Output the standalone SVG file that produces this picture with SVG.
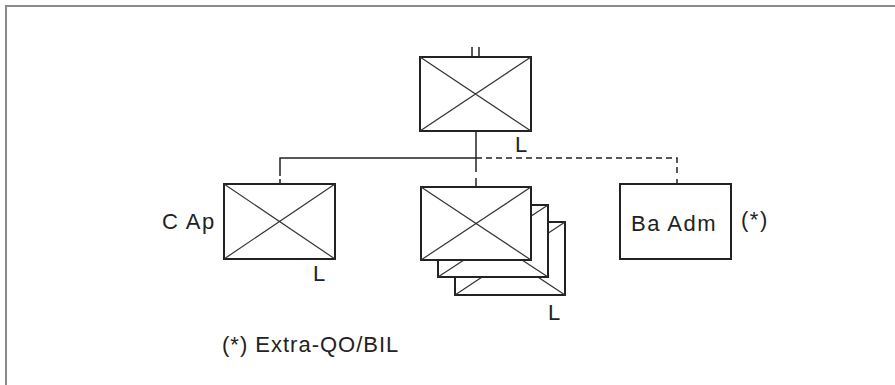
<svg xmlns="http://www.w3.org/2000/svg" width="895" height="385" viewBox="0 0 895 385">
<style>
.frame{fill:none;stroke:#8a8a8a;stroke-width:2}
.box{fill:#fff;stroke:#222;stroke-width:2}
.diag{stroke:#333;stroke-width:1.2;fill:none}
.conn{stroke:#222;stroke-width:1.5;fill:none}
.dash{stroke:#222;stroke-width:1.5;fill:none;stroke-dasharray:6,4}
text{font-family:"Liberation Sans",Arial,sans-serif;font-size:22px;fill:#222;letter-spacing:1.5px}
</style>
<rect width="895" height="385" fill="#fff"/>
<path class="frame" d="M6,385 V6 H895"/>
<g id="connectors">
<line class="conn" x1="472" y1="47" x2="472" y2="57"/>
<line class="conn" x1="479" y1="47" x2="479" y2="57"/>
<line class="conn" x1="476" y1="131" x2="476" y2="158"/>
<polyline class="conn" points="476,158 280,158 280,176"/>
<line class="conn" x1="280" y1="179" x2="280" y2="184"/>
<polyline class="dash" points="476,158 677,158 677,176"/>
<line class="conn" x1="677" y1="179" x2="677" y2="184"/>
<line class="conn" x1="476" y1="158" x2="476" y2="172"/>
<line class="conn" x1="476" y1="178" x2="476" y2="187"/>
</g>
<g id="top">
<rect class="box" x="420" y="57" width="111" height="74"/>
<path class="diag" d="M420,57 L531,131 M531,57 L420,131"/>
<text x="515" y="152">L</text>
</g>
<g id="cap">
<rect class="box" x="224" y="184" width="111" height="75"/>
<path class="diag" d="M224,184 L335,259 M335,184 L224,259"/>
<text x="162" y="229">C Ap</text>
<text x="313" y="281">L</text>
</g>
<g id="stack">
<rect class="box" x="455" y="222" width="110" height="73"/>
<path class="diag" d="M455,222 L565,295 M565,222 L455,295"/>
<rect class="box" x="438" y="205" width="110" height="72"/>
<path class="diag" d="M438,205 L548,277 M548,205 L438,277"/>
<rect class="box" x="421" y="187" width="110" height="73"/>
<path class="diag" d="M421,187 L531,260 M531,187 L421,260"/>
<text x="548" y="320">L</text>
</g>
<g id="baadm">
<rect class="box" x="620" y="184" width="111" height="75"/>
<text x="631" y="231">Ba Adm</text>
<text x="741" y="227">(*)</text>
</g>
<g id="note">
<text x="222" y="352" style="letter-spacing:1px">(*) Extra-QO/BIL</text>
</g>
</svg>
